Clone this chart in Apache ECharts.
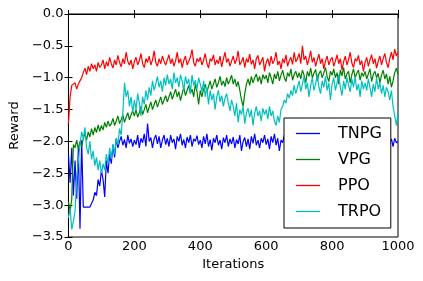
<!DOCTYPE html>
<html>
<head>
<meta charset="utf-8">
<script src="https://cdn.jsdelivr.net/npm/echarts@6/dist/echarts.min.js"></script>
<style>html,body{margin:0;padding:0;background:#fff;}#c{width:423px;height:281px;}</style>
</head>
<body>
<div id="c"></div>
<script>
// Iteration step between stored samples
const STEP = 5;
const seriesNames = ["TNPG", "VPG", "PPO", "TRPO"];
const xTicks = [0, 200, 400, 600, 800, 1000];
const yTicks = [-3.5, -3.0, -2.5, -2.0, -1.5, -1.0, -0.5, 0.0];

const tnpg = [
-2.2,-2.65,-2.1,-2.85,-2.3,-2.9,-2.1,-3.37,-1.98,-3.03,-3.03,-3.03,-3.03,-3.03,-3.03,-2.92,-2.8,-2.85,-2.6,-2.7,
-2.45,-2.6,-2.87,-2.3,-2.5,-2.2,-2.35,-2.05,-2.25,-1.95,-2.1,-2.0,-1.92,-2.06,-1.97,-2.1,-1.9,-2.03,-1.96,-2.08,
-1.98,-2.05,-1.9,-2.1,-1.95,-2.02,-1.88,-2.08,-1.72,-2.0,-1.94,-2.1,-1.96,-1.9,-2.04,-1.92,-2.1,-1.98,-1.9,-2.05,
-1.95,-2.08,-1.9,-2.02,-1.96,-2.12,-1.92,-2.0,-1.88,-2.06,-1.97,-2.1,-1.93,-2.02,-1.9,-2.08,-1.96,-2.0,-1.91,-2.05,
-1.98,-2.1,-1.92,-2.04,-1.88,-2.08,-1.97,-2.14,-1.95,-2.02,-1.9,-2.06,-1.98,-2.12,-1.94,-2.02,-1.9,-2.08,-1.96,-2.04,
-1.93,-2.1,-1.97,-2.04,-1.9,-2.15,-2.0,-1.94,-2.08,-1.96,-2.12,-1.92,-2.03,-1.88,-2.06,-1.98,-2.1,-1.95,-2.02,-1.9,
-2.05,-1.96,-2.12,-1.92,-2.02,-1.88,-2.06,-1.95,-2.15,-1.98,-2.02,-1.9,-2.06,-1.97,-2.1,-1.93,-2.0,-1.88,-2.05,-1.96,
-2.02,-1.92,-2.08,-1.95,-2.0,-1.87,-2.05,-1.97,-2.1,-1.93,-2.0,-1.9,-2.04,-1.96,-2.08,-1.92,-2.0,-1.95,-2.06,-1.9,
-1.98,-2.05,-1.92,-2.02,-1.96,-2.1,-1.94,-2.0,-1.9,-2.06,-1.97,-2.03,-1.92,-2.08,-1.95,-2.0,-1.9,-2.04,-1.96,-2.1,
-1.94,-2.02,-1.9,-2.06,-1.97,-2.0,-1.92,-2.08,-1.95,-2.03,-1.9,-2.05,-1.98,-2.1,-1.93,-2.02,-1.96,-2.08,-1.95,-2.02,
-2.0
];

const vpg = [
-2.95,-3.1,-2.9,-2.05,-2.1,-1.98,-2.12,-2.0,-2.08,-1.95,-1.88,-1.98,-1.85,-1.93,-1.8,-1.9,-1.78,-1.86,-1.74,-1.84,
-1.75,-1.82,-1.7,-1.78,-1.68,-1.76,-1.72,-1.64,-1.75,-1.68,-1.6,-1.72,-1.66,-1.58,-1.7,-1.62,-1.55,-1.66,-1.58,-1.52,
-1.6,-1.5,-1.62,-1.55,-1.45,-1.58,-1.5,-1.42,-1.55,-1.46,-1.38,-1.5,-1.42,-1.35,-1.46,-1.38,-1.3,-1.42,-1.35,-1.28,
-1.38,-1.3,-1.22,-1.34,-1.26,-1.18,-1.3,-1.22,-1.36,-1.25,-1.15,-1.28,-1.2,-1.12,-1.25,-1.18,-1.3,-1.1,-1.22,-1.42,
-1.2,-1.3,-1.18,-1.1,-1.22,-1.14,-1.05,-1.18,-1.1,-1.02,-1.15,-1.08,-0.98,-1.12,-1.05,-1.14,-1.0,-1.1,-1.04,-0.96,
-1.1,-1.02,-1.14,-1.06,-1.2,-1.35,-1.45,-1.25,-1.1,-1.02,-1.12,-0.98,-1.08,-1.0,-0.94,-1.06,-0.98,-1.1,-0.95,-1.02,
-0.96,-1.08,-0.92,-1.0,-1.1,-0.94,-1.02,-0.9,-1.05,-0.96,-0.88,-1.0,-1.06,-0.92,-0.98,-0.86,-1.04,-0.95,-0.9,-1.0,
-0.92,-1.02,-0.88,-0.96,-1.08,-0.9,-0.98,-0.85,-1.0,-0.93,-0.87,-1.05,-0.94,-0.89,-1.0,-0.92,-0.84,-0.98,-1.06,-0.9,
-0.96,-0.86,-1.0,-0.92,-1.1,-0.88,-0.97,-0.84,-1.02,-0.94,-0.9,-1.08,-0.95,-0.86,-1.0,-0.93,-0.88,-1.04,-0.92,-0.98,
-0.9,-1.02,-0.94,-0.86,-1.06,-0.95,-0.9,-1.0,-0.93,-1.08,-0.96,-0.88,-1.02,-0.94,-1.1,-0.98,-1.15,-1.05,-0.92,-0.85,
-0.95
];

const ppo = [
-1.72,-1.3,-1.12,-1.15,-1.08,-1.18,-1.1,-1.05,-1.0,-0.92,-0.85,-0.95,-0.82,-0.9,-0.78,-0.86,-0.8,-0.9,-0.76,-0.84,
-0.8,-0.72,-0.86,-0.75,-0.82,-0.68,-0.78,-0.85,-0.72,-0.8,-0.65,-0.76,-0.83,-0.7,-0.78,-0.6,-0.74,-0.8,-0.72,-0.86,
-0.75,-0.68,-0.8,-0.73,-0.62,-0.78,-0.84,-0.7,-0.76,-0.66,-0.8,-0.72,-0.58,-0.76,-0.82,-0.7,-0.78,-0.66,-0.74,-0.8,
-0.72,-0.64,-0.78,-0.7,-0.82,-0.74,-0.6,-0.77,-0.7,-0.84,-0.73,-0.66,-0.8,-0.74,-0.68,-0.56,-0.76,-0.82,-0.7,-0.75,
-0.68,-0.8,-0.73,-0.62,-0.77,-0.85,-0.7,-0.74,-0.64,-0.8,-0.72,-0.78,-0.66,-0.83,-0.71,-0.6,-0.76,-0.7,-0.82,-0.74,
-0.66,-0.78,-0.72,-0.58,-0.8,-0.75,-0.68,-0.84,-0.7,-0.76,-0.63,-0.79,-0.72,-0.86,-0.7,-0.65,-0.8,-0.74,-0.68,-0.9,
-0.76,-0.7,-0.82,-0.66,-0.78,-0.72,-0.6,-0.8,-0.74,-0.86,-0.7,-0.77,-0.64,-0.82,-0.73,-0.68,-0.79,-0.6,-0.75,-0.7,
-0.62,-0.78,-0.5,-0.72,-0.66,-0.8,-0.7,-0.58,-0.76,-0.68,-0.82,-0.72,-0.63,-0.78,-0.7,-0.86,-0.74,-0.66,-0.8,-0.72,
-0.68,-0.82,-0.74,-0.64,-0.78,-0.7,-0.88,-0.75,-0.66,-0.8,-0.72,-0.6,-0.77,-0.84,-0.7,-0.74,-0.65,-0.8,-0.73,-0.9,
-0.76,-0.68,-0.82,-0.72,-0.64,-0.78,-0.7,-0.85,-0.74,-0.66,-0.8,-0.7,-0.62,-0.76,-0.84,-0.7,-0.6,-0.72,-0.55,-0.66,
-0.6
];

const trpo = [
-3.2,-3.05,-3.38,-3.25,-3.1,-2.6,-2.3,-2.05,-1.85,-1.95,-1.78,-2.1,-2.2,-2.0,-2.28,-2.15,-2.38,-2.25,-2.45,-2.3,
-2.5,-2.35,-2.45,-2.2,-2.35,-2.1,-2.28,-2.05,-2.2,-1.95,-2.05,-1.8,-1.9,-1.55,-1.08,-1.3,-1.2,-1.45,-1.3,-1.55,
-1.35,-1.5,-1.25,-1.4,-1.6,-1.3,-1.42,-1.2,-1.35,-1.15,-1.28,-1.05,-1.2,-1.1,-0.98,-1.15,-1.05,-1.22,-1.0,-1.12,
-0.95,-1.1,-1.02,-1.18,-0.92,-1.08,-1.0,-1.15,-0.95,-1.05,-1.2,-0.98,-1.1,-1.02,-1.25,-0.96,-1.12,-1.04,-1.18,-1.0,
-1.1,-1.22,-1.05,-1.3,-1.15,-1.42,-1.2,-1.35,-1.25,-1.5,-1.3,-1.2,-1.38,-1.28,-1.45,-1.32,-1.25,-1.4,-1.52,-1.35,
-1.45,-1.6,-1.4,-1.7,-1.5,-1.58,-1.45,-1.72,-1.55,-1.48,-1.62,-1.5,-1.75,-1.56,-1.45,-1.6,-1.52,-1.68,-1.48,-1.58,
-1.5,-1.65,-1.45,-1.6,-1.52,-1.68,-1.75,-1.6,-1.7,-1.5,-1.45,-1.35,-1.4,-1.25,-1.32,-1.2,-1.28,-1.12,-1.25,-1.15,
-1.05,-1.22,-1.1,-0.98,-1.18,-1.08,-1.3,-1.12,-1.0,-1.2,-1.1,-0.95,-1.15,-1.25,-1.05,-1.15,-0.98,-1.2,-1.08,-1.35,
-1.1,-1.0,-1.2,-1.08,-0.95,-1.15,-1.28,-1.05,-1.18,-1.0,-1.12,-1.22,-1.02,-1.15,-0.98,-1.2,-1.1,-1.3,-1.05,-1.18,
-1.08,-1.2,-1.02,-1.15,-1.3,-1.1,-1.22,-1.0,-1.18,-1.08,-1.25,-1.12,-1.3,-1.15,-1.22,-1.35,-1.2,-1.45,-1.6,-1.75,
-1.55
];

const colors = ["#0000ff", "#008000", "#ff0000", "#00bfbf"];
const values = [tnpg, vpg, ppo, trpo];

function pairs(arr) { return arr.map((v, i) => [i * STEP, v]); }
function fmtY(v) { return v.toFixed(1).replace("-", "\u2212"); }
function fmtX(v) { return String(v); }

const FONT = "DejaVu Sans";
const chart = echarts.init(document.getElementById("c"), null, {renderer: "canvas"});
const axisLine = {show: true, lineStyle: {color: "#000", width: 1}};
const tick = {show: true, inside: true, length: 4, lineStyle: {color: "#000"}};

chart.setOption({
  animation: false,
  backgroundColor: "#fff",
  grid: {left: 65, right: 25, top: 14, bottom: 44, show: true, borderColor: "#000", borderWidth: 1, backgroundColor: "transparent"},
  legend: {
    orient: "vertical", left: 284, top: 118,
    data: seriesNames.map((n) => ({name: n, icon: "rect"})),
    itemWidth: 24, itemHeight: 1.3, itemGap: 7,
    padding: [6, 9, 7, 12],
    borderColor: "#000", borderWidth: 1, borderRadius: 0, backgroundColor: "#fff",
    textStyle: {fontFamily: FONT, fontSize: 16, color: "#000", padding: [0, 0, 0, 13], lineHeight: 19}
  },
  xAxis: [
    {type: "value", min: 0, max: 1000, interval: 200, position: "bottom",
     axisLine: axisLine, axisTick: tick, splitLine: {show: false},
     axisLabel: {fontFamily: FONT, fontSize: 13, color: "#000", margin: 3, formatter: fmtX},
     name: "Iterations", nameLocation: "middle", nameGap: 21,
     nameTextStyle: {fontFamily: FONT, fontSize: 13, color: "#000"}},
    {type: "value", min: 0, max: 1000, interval: 200, position: "top",
     axisLine: axisLine, axisTick: tick, splitLine: {show: false}, axisLabel: {show: false}}
  ],
  yAxis: [
    {type: "value", min: -3.5, max: 0, interval: 0.5, position: "left",
     axisLine: axisLine, axisTick: tick, splitLine: {show: false},
     axisLabel: {fontFamily: FONT, fontSize: 13, color: "#000", margin: 5, formatter: fmtY},
     name: "Reward", nameLocation: "middle", nameGap: 45,
     nameTextStyle: {fontFamily: FONT, fontSize: 13, color: "#000"}},
    {type: "value", min: -3.5, max: 0, interval: 0.5, position: "right",
     axisLine: axisLine, axisTick: tick, splitLine: {show: false}, axisLabel: {show: false}}
  ],
  series: seriesNames.map((n, k) => ({
    name: n, type: "line", xAxisIndex: 0, yAxisIndex: 0,
    data: pairs(values[k]), showSymbol: false, symbol: "none",
    lineStyle: {color: colors[k], width: 1.2}, itemStyle: {color: colors[k]},
    emphasis: {disabled: true}, clip: true
  }))
});
</script>
</body>
</html>
